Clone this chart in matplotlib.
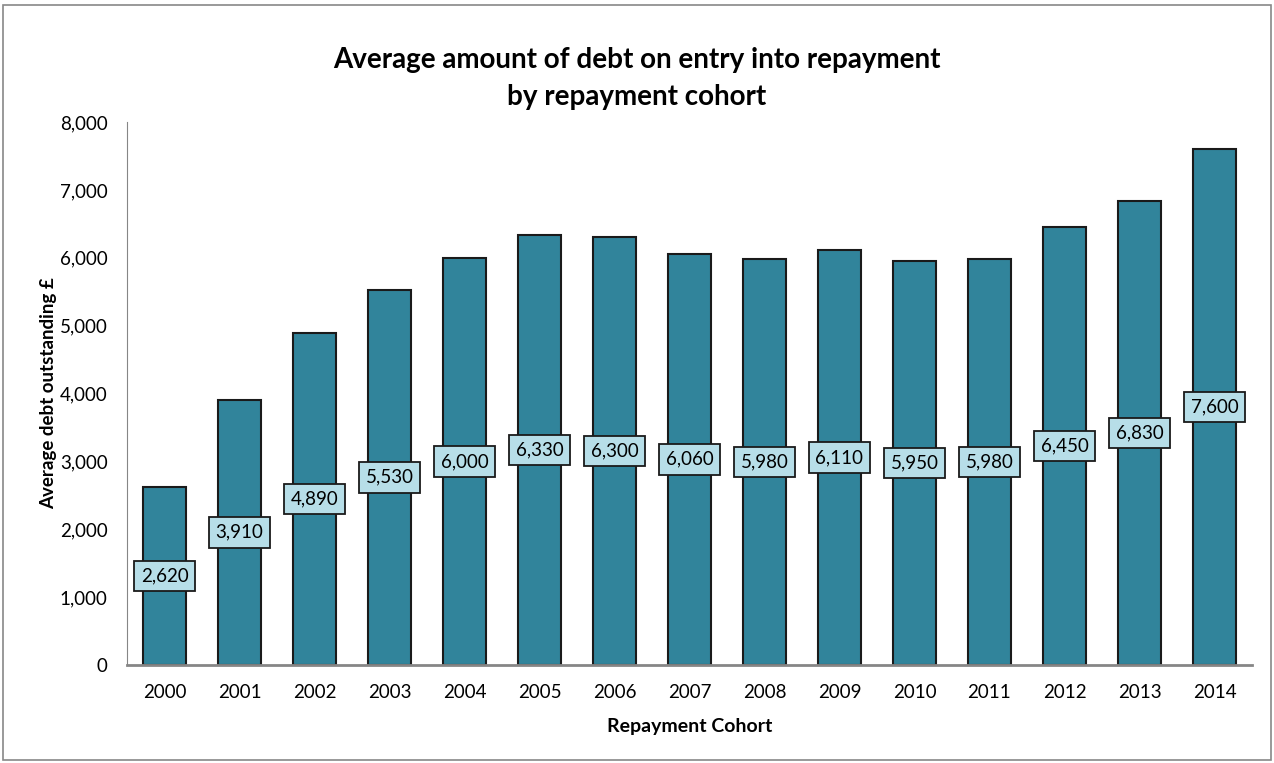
import matplotlib.pyplot as plt
import matplotlib.patches as patches
import numpy as np

plt.rcParams['font.family'] = ['Lato', 'DejaVu Sans']

# data
cohorts = ['2000', '2001', '2002', '2003', '2004', '2005', '2006', '2007',
           '2008', '2009', '2010', '2011', '2012', '2013', '2014']
avg_debt = [2620, 3910, 4890, 5530, 6000, 6330, 6300, 6060,
            5980, 6110, 5950, 5980, 6450, 6830, 7600]

fig = plt.figure(figsize=(12.74, 7.63), dpi=100)
ax = fig.add_axes([0.0997, 0.1284, 0.883, 0.7117])

x = np.arange(len(cohorts))
ax.bar(x, avg_debt, width=0.58, color='#31849B', edgecolor='#1a1a1a', linewidth=1.5, zorder=2)

# value labels in the middle of each bar
for xi, v in zip(x, avg_debt):
    ax.text(xi, v / 2, f'{v:,}', ha='center', va='center', fontsize=13.5, zorder=3,
            bbox=dict(boxstyle='square,pad=0.36', facecolor='#B7DEE8',
                      edgecolor='#1a1a1a', linewidth=1.3))

ax.set_xlim(-0.5, len(cohorts) - 0.5)
ax.set_ylim(0, 8000)
ax.set_yticks(np.arange(0, 8001, 1000))
ax.set_yticklabels([f'{t:,}' for t in range(0, 8001, 1000)])
ax.set_xticks(x)
ax.set_xticklabels(cohorts)
ax.tick_params(axis='both', length=0, labelsize=13.5, colors='black')
ax.tick_params(axis='y', pad=14)
ax.tick_params(axis='x', pad=14)

for s in ['top', 'right']:
    ax.spines[s].set_visible(False)
ax.spines['left'].set_color('#868686')
ax.spines['bottom'].set_color('#868686')
ax.spines['bottom'].set_linewidth(2)

ax.set_xlabel('Repayment Cohort', fontsize=14, fontweight='bold', labelpad=12)
ax.set_ylabel('Average debt outstanding £', fontsize=13.5, fontweight='bold', labelpad=2)

fig.suptitle('Average amount of debt on entry into repayment\nby repayment cohort',
             fontsize=20, fontweight='bold', x=0.5, y=0.938, linespacing=1.5)

# outer chart border
fig.patches.append(patches.Rectangle((0.0025, 0.004), 0.995, 0.99, transform=fig.transFigure,
                                     fill=False, edgecolor='#888888', linewidth=1.2))

plt.savefig('out.png', dpi=100)
